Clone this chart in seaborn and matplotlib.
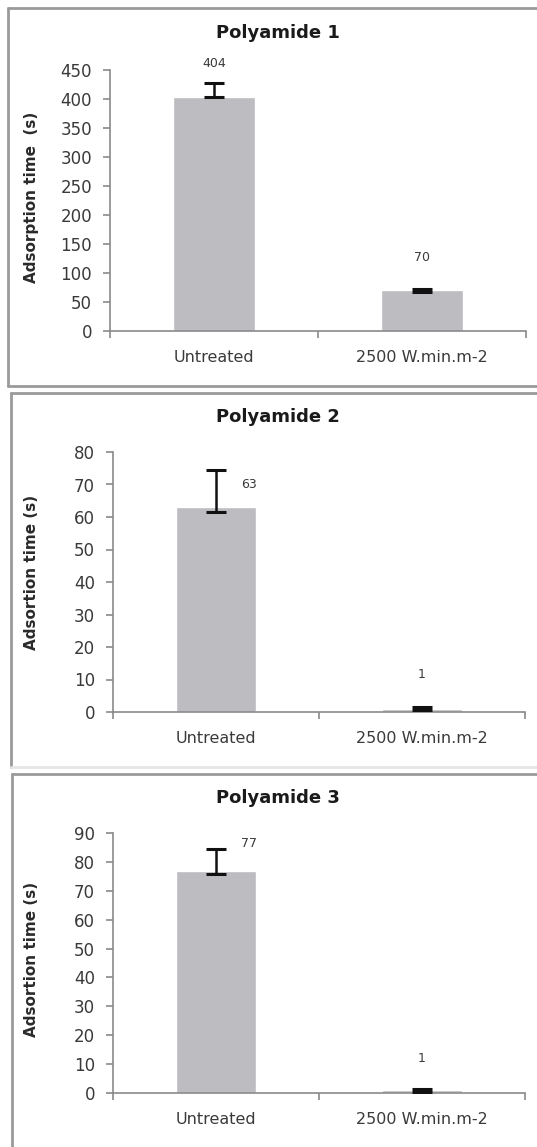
import matplotlib
matplotlib.use("Agg")
import matplotlib.pyplot as plt
from matplotlib.lines import Line2D
import seaborn as sns

# ---- data ----
categories = ["Untreated", "2500 W.min.m-2"]
titles = ["Polyamide 1", "Polyamide 2", "Polyamide 3"]
ylabels = ["Adsorption time  (s)", "Adsortion time (s)", "Adsortion time (s)"]

pa1_values = [404, 70]
pa1_err_low = [1, 3]
pa1_err_high = [24, 3]

pa2_values = [63, 1]
pa2_err_low = [1.5, 0.5]
pa2_err_high = [11.5, 0.5]

pa3_values = [77, 1]
pa3_err_low = [1.3, 0.5]
pa3_err_high = [7.3, 0.5]

ymax = [450, 80, 90]
ystep = [50, 10, 10]

# ---- layout (pixels on a 537 x 1147 canvas) ----
W, H = 537, 1147
axes_px = [  # left, right, top, bottom
    (110, 526, 70, 331),
    (113, 525, 452, 712),
    (113, 525, 833, 1093),
]
title_y_px = [33, 417, 798]
ylabel_y_px = [197, 572, 959]
# value-label anchors: (x offset in category units, y in data units)
label_anchor = [
    [(0.0, 462), (0.0, 127)],
    [(0.16, 70), (0.0, 11.4)],
    [(0.16, 86.5), (0.0, 12.0)],
]
# frame edges: left x, top y, bottom y, bottom-edge colour
frames_px = [(8, 8, 386, "#9a9a9a"), (11, 393, 767, "#e6e6e6"), (12, 774, 1160, "#9a9a9a")]

BAR = "#bdbdc1"
AXIS = "#8a8a8a"
TXT = "#3a3a3a"

sns.set_theme(style="white")
plt.rcParams["font.family"] = ["DejaVu Sans"]

fig = plt.figure(figsize=(W / 100, H / 100), dpi=100)
fig.patch.set_facecolor("white")

series = [
    (pa1_values, pa1_err_low, pa1_err_high),
    (pa2_values, pa2_err_low, pa2_err_high),
    (pa3_values, pa3_err_low, pa3_err_high),
]


def fx(px):
    return px / W


def fy(py):
    return 1 - py / H


# panel frames
for x0, y0, y1, bcol in frames_px:
    fig.add_artist(Line2D([fx(x0), fx(W + 10)], [fy(y0), fy(y0)],
                          transform=fig.transFigure, color="#9a9a9a", lw=2.0))
    fig.add_artist(Line2D([fx(x0), fx(x0)], [fy(y0), fy(y1)],
                          transform=fig.transFigure, color="#9a9a9a", lw=2.0))
    fig.add_artist(Line2D([fx(x0), fx(W + 10)], [fy(y1), fy(y1)],
                          transform=fig.transFigure, color=bcol, lw=2.0))

for i, (vals, lo, hi) in enumerate(series):
    l, r, t, b = axes_px[i]
    ax = fig.add_axes([fx(l), fy(b), (r - l) / W, (b - t) / H])
    sns.barplot(x=categories, y=vals, color=BAR, width=0.39, errorbar=None,
                saturation=1, ax=ax, zorder=2)
    ax.errorbar([0, 1], vals, yerr=[lo, hi], fmt="none", ecolor="#111111",
                elinewidth=1.8, capsize=7, capthick=2.2, zorder=3)

    ax.set_xlim(-0.5, 1.5)
    ax.set_ylim(0, ymax[i])
    ax.set_yticks(range(0, ymax[i] + 1, ystep[i]))
    ax.set_xticks([0, 1])
    ax.set_xticklabels(categories)
    ax.set_xticks([-0.5, 0.5, 1.5], minor=True)

    for side in ("top", "right"):
        ax.spines[side].set_visible(False)
    for side in ("left", "bottom"):
        ax.spines[side].set_color(AXIS)
        ax.spines[side].set_linewidth(1.2)

    ax.tick_params(axis="x", which="major", length=0, pad=14,
                   labelsize=11.5, labelcolor=TXT)
    ax.tick_params(axis="x", which="minor", length=5, width=1.2,
                   color=AXIS, direction="out", bottom=True)
    ax.tick_params(axis="y", which="major", length=5, width=1.2, color=AXIS,
                   direction="out", left=True, pad=8,
                   labelsize=12, labelcolor=TXT)
    ax.set_xlabel("")
    ax.set_ylabel("")
    ax.grid(False)

    for j, v in enumerate(vals):
        dx, yy = label_anchor[i][j]
        ax.text(j + dx, yy, f"{v}", ha="center", va="center",
                fontsize=9, color=TXT, clip_on=False)

    fig.text(fx(278), fy(title_y_px[i]), titles[i], ha="center",
             va="center", fontsize=13, fontweight="bold", color="#1a1a1a")
    fig.text(fx(32), fy(ylabel_y_px[i]), ylabels[i], ha="center",
             va="center", rotation=90, fontsize=11, fontweight="bold",
             color="#2a2a2a")

fig.savefig("out.png", dpi=100, facecolor="white")
